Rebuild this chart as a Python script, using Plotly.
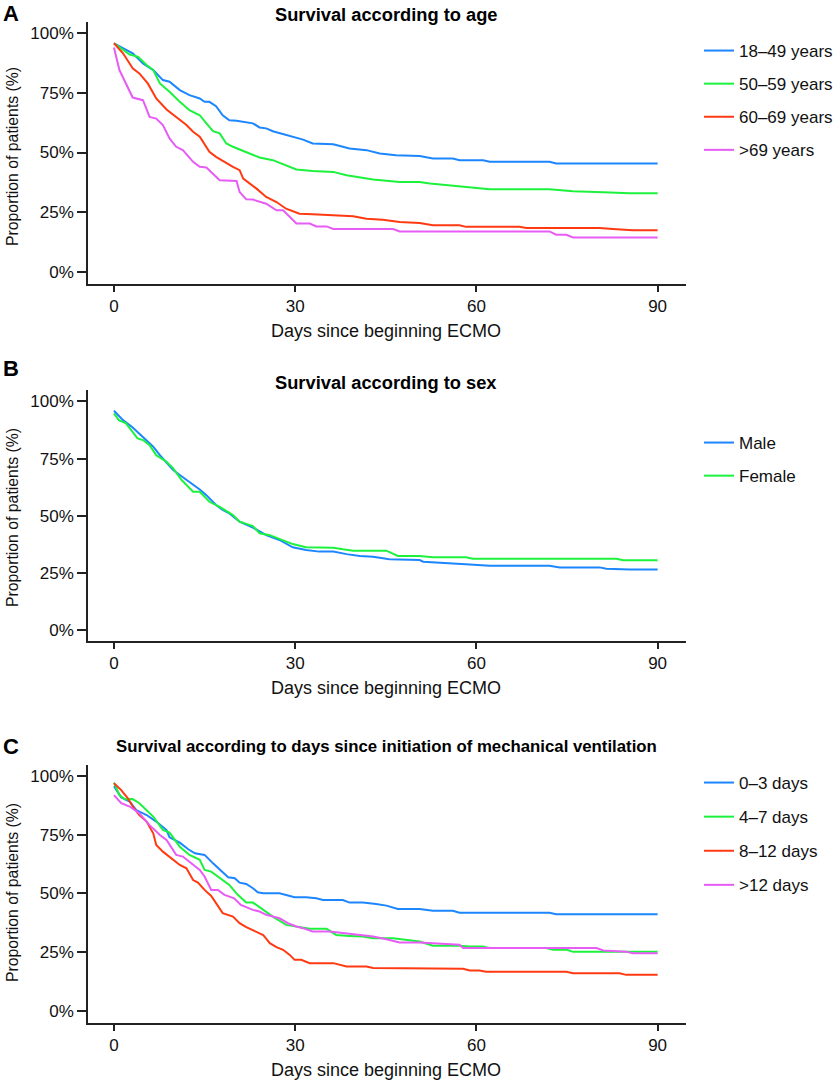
import plotly.graph_objects as go

# ---- data ----
# Panel A: survival according to age
age_labels = ["18\u201349 years", "50\u201359 years", "60\u201369 years", ">69 years"]
a_1849_x = [0, 2, 3.1, 4.8, 6.5, 8.1, 9.2, 10.9, 12.5, 14.2, 15, 15.8, 16.9, 18, 19.1, 20.3, 23, 24.1, 25.2, 26.3,
            28.5, 30.2, 31.3, 32.9, 36.3, 39, 41.8, 44, 46.7, 50.6, 52.8, 56.1, 57.2, 61.1, 62.2, 72.1, 73.2, 90]
a_1849_y = [95.7, 93.2, 91.5, 87.3, 84.5, 80.3, 79.6, 76.1, 74, 72.6, 71.2, 71.2, 69.4, 65.6, 63.5, 63.3, 62.2, 60.5, 60.1, 58.9,
            57.3, 55.9, 55.4, 53.8, 53.5, 51.7, 51, 49.6, 48.9, 48.5, 47.5, 47.5, 46.8, 46.8, 46.1, 46.1, 45.4, 45.4]
a_5059_x = [0, 1.5, 2.6, 4, 5.4, 6.5, 7.6, 9.2, 10.9, 12.5, 14.2, 15.3, 16.4, 17.5, 18.6, 19.7, 21.9, 24.1, 26.3, 28.5,
            30.2, 32.9, 36.3, 38.5, 40.1, 42.9, 47.3, 50.6, 52.3, 56.1, 58.9, 62.2, 72.1, 76, 81, 85.4, 90]
a_5059_y = [95.7, 93.2, 91, 90, 86.6, 84.5, 78.9, 75.4, 71.2, 67.7, 65.6, 62.2, 58.9, 58, 53.8, 52.4, 50.3, 47.9, 46.8, 44.7,
            42.9, 42.3, 41.9, 40.5, 39.8, 38.7, 37.7, 37.7, 37, 36, 35.2, 34.6, 34.6, 33.8, 33.4, 33, 33]
a_6069_x = [0, 1.5, 3.1, 4.2, 5.6, 7, 8.7, 10.3, 12, 13.1, 14.2, 15.8, 16.9, 19.7, 20.8, 21.4, 23.6, 25.2, 26.9, 28.5,
            30.7, 32.9, 36.3, 39.6, 41.8, 44.5, 47.3, 50.6, 52.8, 57.2, 58.3, 67.1, 68.3, 80.4, 82.6, 85.9, 90]
a_6069_y = [95.7, 91.5, 85.2, 83.1, 78.9, 72.6, 68, 64.9, 61.5, 58.7, 56.6, 50.3, 48.2, 44, 42.6, 39.1, 34.9, 31.4, 29.3, 26.5,
            24.4, 24.2, 23.7, 23.3, 22.3, 21.9, 20.9, 20.5, 19.6, 19.6, 18.9, 18.9, 18.4, 18.4, 18, 17.5, 17.5]
a_69_x = [0, 0.9, 3.1, 4.8, 5.9, 7, 8.1, 9.2, 10.3, 11.4, 13.1, 14.2, 15.3, 17.5, 20.3, 20.8, 21.9, 23, 25.2, 26.9,
          28, 29.1, 30.2, 32.4, 33.5, 35.2, 36.3, 46.2, 47.3, 72.1, 73.2, 74.9, 76, 90]
a_69_y = [93.9, 84.5, 73, 71.9, 64.9, 64.2, 61.5, 55.9, 52.4, 51, 46.1, 44, 43.7, 38.4, 38.1, 33.5, 30.4, 30.3, 28.6, 25.8,
          25.8, 23, 20.3, 20.3, 19.1, 19.1, 18, 18, 17, 17, 15.6, 15.6, 14.5, 14.5]

# Panel B: survival according to sex
sex_labels = ["Male", "Female"]
b_male_x = [0, 1.5, 3.1, 4.8, 6.5, 7.6, 9.8, 10.9, 12.5, 14.2, 15.3, 16.9, 18, 19.1, 20.8, 23, 25.2, 27.4, 29.6, 31.8,
            34, 36.3, 38.5, 40.7, 42.9, 45.6, 50.6, 51.2, 58.9, 62.2, 72.1, 73.8, 80.4, 81.5, 85.4, 90]
b_male_y = [95.9, 91.8, 88.6, 84.5, 80.2, 76.5, 70, 67.8, 64.9, 61.5, 59, 54.7, 52.5, 51, 47.4, 44.8, 41.5, 39.4, 36.2, 35,
            34.3, 34.3, 33.2, 32.4, 32.1, 31, 30.6, 29.9, 28.7, 28.1, 28.1, 27.4, 27.4, 26.8, 26.5, 26.5]
b_female_x = [0, 0.8, 2, 3.9, 4.8, 5.9, 7, 8.7, 9.8, 11.2, 13.1, 14.2, 15.8, 17.5, 19.7, 20.8, 23, 24.1, 25.8, 28,
              29.6, 31.8, 34, 36.3, 37.9, 39.6, 45.1, 47, 50.6, 52.8, 58.3, 59.4, 83.2, 84.3, 90]
b_female_y = [94.8, 91.8, 90.4, 83.8, 83.1, 80.9, 76.5, 73.6, 70.7, 65.6, 60.5, 60.5, 56.1, 53.9, 50.3, 47.4, 45.5, 42.3, 41.5, 39.4,
              37.6, 36.2, 36.2, 36, 35.3, 34.7, 34.7, 32.4, 32.4, 31.8, 31.8, 31.2, 31.2, 30.5, 30.5]

# Panel C: survival according to days since initiation of mechanical ventilation
mv_labels = ["0\u20133 days", "4\u20137 days", "8\u201312 days", ">12 days"]
c_03_x = [0, 1.2, 2.6, 3.7, 5.4, 7, 8.7, 9.2, 10.9, 12.3, 13.4, 15, 16.4, 17.8, 18.9, 20, 20.8, 21.9, 23, 23.8,
          24.7, 27.4, 28.5, 29.9, 31.8, 33.5, 34.6, 37.9, 39, 41.2, 43.4, 45.1, 47, 50.6, 52.8, 56.1, 57.2, 72.1, 73.2, 90]
c_03_y = [95.7, 90.9, 89.1, 85.5, 83.4, 80.6, 77, 73.9, 71.6, 68.8, 67.1, 66.4, 62.8, 59.3, 56.9, 56.5, 54.6, 54, 52.2, 50.5,
          50.1, 50.1, 49.4, 48.4, 48.4, 47.9, 47.2, 47.2, 46.1, 46.1, 45.5, 44.8, 43.4, 43.4, 42.6, 42.6, 41.8, 41.8, 41.1, 41.1]
c_47_x = [0, 0.9, 1.8, 3.1, 4.2, 5.4, 6.5, 8.1, 9.2, 10.9, 12.5, 14.2, 15, 16.1, 17.5, 19.1, 20.5, 21.9, 23, 24.7,
          26.3, 28.5, 30.2, 32.4, 35.2, 36.8, 39, 41.2, 42.9, 46.2, 50.6, 52.8, 57.2, 58.9, 61.1, 62.2, 71.5, 72.7, 75, 76, 90]
c_47_y = [97.2, 91.9, 90.1, 90.2, 88.4, 85.5, 82.7, 77, 75.9, 69.9, 66.4, 64.3, 60, 59.3, 56.5, 53.6, 49.4, 46.1, 46.1, 43,
          40.1, 36.6, 35.9, 34.9, 34.9, 32.3, 31.9, 31.6, 30.9, 30.9, 29.5, 27.7, 27.7, 27.4, 27.4, 26.7, 26.7, 26, 26, 25.1, 25.1]
c_812_x = [0, 1.2, 2.3, 3.1, 4.2, 5.4, 6.5, 7, 8.1, 9.2, 10.9, 12, 13.1, 13.9, 15, 16.1, 16.9, 18, 19.7, 20.8,
           21.9, 23.6, 24.7, 25.8, 26.9, 28, 29.1, 29.9, 31, 32.4, 36.3, 38.5, 41.8, 42.9, 50.6, 57.8, 58.9, 60.5, 61.6,
           74.9, 76, 83.7, 84.8, 90]
c_812_y = [96.9, 94, 90.5, 87, 83.4, 80.6, 75.6, 70.6, 67.8, 65.7, 62.1, 60.7, 55.7, 54.6, 51.5, 48.9, 45.8, 41.6, 40.1, 37.3,
           35.6, 33.8, 32.3, 28.8, 27.1, 26, 23.8, 21.7, 21.7, 20.3, 20.3, 18.9, 18.9, 18.2, 17.9, 17.9, 17.2, 17.2, 16.6,
           16.6, 16, 16, 15.3, 15.3]
c_12_x = [0, 1.2, 2.6, 4.2, 5.9, 7.6, 8.7, 10.3, 11.4, 12.8, 14.2, 15, 16.1, 17.2, 18.3, 19.9, 21, 23, 24.1, 25.2,
          27.4, 28.8, 30.2, 31.3, 32.9, 35.7, 37.4, 39.6, 41.2, 42.9, 45.1, 47.3, 50.6, 53.9, 57.2, 57.8, 79.9, 81, 84.8,
          85.9, 90]
c_12_y = [91.9, 88.4, 87, 84.1, 79.1, 74.9, 72.8, 66.4, 65.7, 62.8, 60, 57.2, 51.5, 51.5, 49.4, 47.9, 45.1, 43, 42.3, 40.9,
          39.4, 37.3, 35.9, 35.2, 33.8, 33.8, 33.3, 32.8, 32.3, 31.6, 30.5, 29.1, 29.1, 28.5, 28.1, 26.7, 26.7, 25.7, 25.2,
          24.5, 24.5]

x_ticks = [0, 30, 60, 90]
y_ticks = [0, 25, 50, 75, 100]
y_ticktext = ["0%", "25%", "50%", "75%", "100%"]

colors = ["#1C86FF", "#1CF23C", "#FF3A12", "#E75CF5"]

W, H = 840, 1081
FONT = "Liberation Sans, Arial, Helvetica, sans-serif"


def py(pix):
    # pixel row -> paper y
    return 1 - pix / H


def px(pix):
    return pix / W


fig = go.Figure()

panels = [
    dict(series=[(a_1849_x, a_1849_y), (a_5059_x, a_5059_y), (a_6069_x, a_6069_y), (a_69_x, a_69_y)],
         labels=age_labels, top=22, bottom=284, yr=[-5.0, 104.6], ylab_y=157, gap=8,
         title="Survival according to age", tsize=18.3, letter="A", title_y=15, letter_y=14, leg_y=33),
    dict(series=[(b_male_x, b_male_y), (b_female_x, b_female_y)],
         labels=sex_labels, top=390, bottom=641, yr=[-4.8, 105.0], ylab_y=518, gap=8,
         title="Survival according to sex", tsize=18.3, letter="B", title_y=382, letter_y=368, leg_y=425),
    dict(series=[(c_03_x, c_03_y), (c_47_x, c_47_y), (c_812_x, c_812_y), (c_12_x, c_12_y)],
         labels=mv_labels, top=765, bottom=1023, yr=[-5.2, 104.7], ylab_y=893, gap=9,
         title="Survival according to days since initiation of mechanical ventilation", tsize=16.8, letter="C",
         title_y=746, letter_y=746, leg_y=765),
]

layout_extra = {}
for i, p in enumerate(panels):
    n = "" if i == 0 else str(i + 1)
    leg = "legend" if i == 0 else "legend" + str(i + 1)
    for j, ((xs, ys), lab) in enumerate(zip(p["series"], p["labels"])):
        fig.add_trace(go.Scatter(
            x=xs, y=ys, mode="lines", name=lab,
            line=dict(color=colors[j], width=2),
            xaxis="x" + n, yaxis="y" + n, legend=leg,
            legendgroup=f"{i}_{j}",
        ))
    layout_extra["xaxis" + n] = dict(
        domain=[px(88), px(686)], anchor="y" + n, range=[-4.3, 94.7],
        tickvals=x_ticks, ticks="outside", ticklen=6, tickwidth=1.5, tickcolor="#222",
        showline=True, linecolor="#222", linewidth=1.5, showgrid=False, zeroline=False,
        tickfont=dict(size=17, color="#111", family=FONT), ticklabelstandoff=0,
    )
    layout_extra["yaxis" + n] = dict(
        domain=[py(p["bottom"]), py(p["top"])], anchor="x" + n, range=p["yr"],
        tickvals=y_ticks, ticktext=y_ticktext, ticks="outside", ticklen=9, tickwidth=1.5,
        tickcolor="#222", showline=True, linecolor="#222", linewidth=1.5, showgrid=False,
        zeroline=False, tickfont=dict(size=17, color="#111", family=FONT), ticklabelstandoff=0,
    )
    layout_extra[leg] = dict(
        x=px(699), y=py(p["leg_y"]), xanchor="left", yanchor="top",
        font=dict(size=17, color="#111", family=FONT), tracegroupgap=p["gap"],
        bgcolor="rgba(0,0,0,0)", itemwidth=30,
    )

annotations = []
for i, p in enumerate(panels):
    annotations.append(dict(text="<b>" + p["title"] + "</b>", x=px(386), y=py(p["title_y"]),
                            xref="paper", yref="paper", showarrow=False, xanchor="center", yanchor="middle",
                            font=dict(size=p["tsize"], color="#000", family=FONT)))
    annotations.append(dict(text="<b>" + p["letter"] + "</b>", x=px(1), y=py(p["letter_y"]),
                            xref="paper", yref="paper", showarrow=False, xanchor="left", yanchor="middle",
                            font=dict(size=22, color="#000", family=FONT)))
    annotations.append(dict(text="Proportion of patients (%)", x=px(12), y=py(p["ylab_y"]),
                            xref="paper", yref="paper", showarrow=False, textangle=-90,
                            xanchor="center", yanchor="middle",
                            font=dict(size=15.8, color="#111", family=FONT)))
    annotations.append(dict(text="Days since beginning ECMO", x=px(386), y=py(p["bottom"] + 47),
                            xref="paper", yref="paper", showarrow=False, xanchor="center", yanchor="middle",
                            font=dict(size=18, color="#111", family=FONT)))

fig.update_layout(
    width=W, height=H,
    margin=dict(l=0, r=0, t=0, b=0),
    paper_bgcolor="white", plot_bgcolor="white",
    font=dict(family=FONT, size=17, color="#111"),
    annotations=annotations,
    **layout_extra,
)

# the page body has a default 8px margin; drop it so the figure fills the window
fig.write_html("out.html", config={"displayModeBar": False},
               post_script="document.body.style.margin='0px';")
